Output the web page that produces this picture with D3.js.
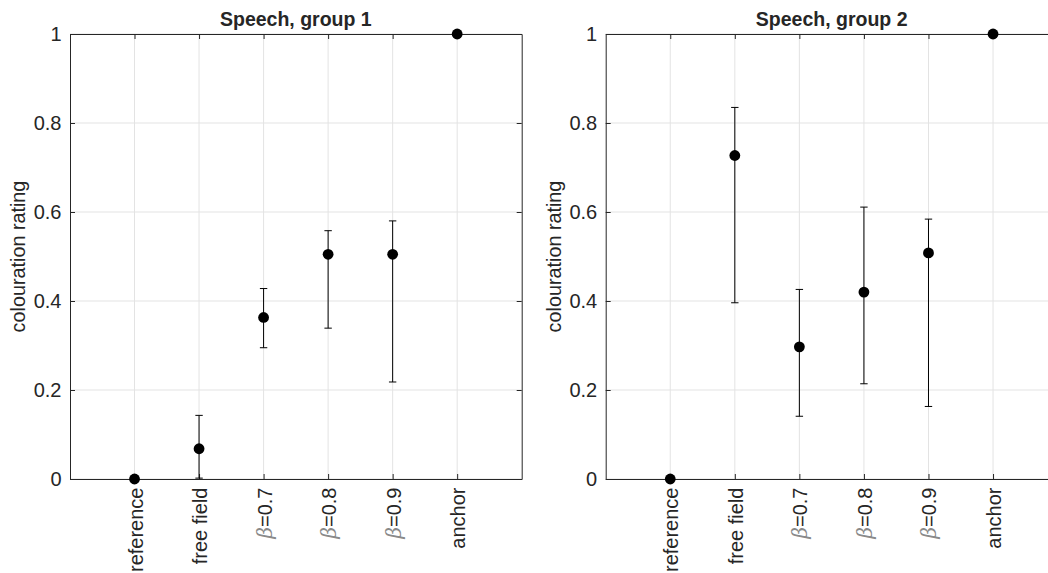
<!DOCTYPE html>
<html>
<head>
<meta charset="utf-8">
<script src="https://cdn.jsdelivr.net/npm/d3@7"></script>
<style>
  html, body { margin: 0; padding: 0; background: #fff; }
  svg { display: block; }
  text { font-family: "Liberation Sans", Arial, Helvetica, sans-serif; fill: #262626; }
</style>
</head>
<body>
<svg id="fig" width="1048" height="573"></svg>
<script>
// Conditions along the x axis (positions 1..6)
const conditions = ["reference", "free field", "β=0.7", "β=0.8", "β=0.9", "anchor"];
const yTicks = [0, 0.2, 0.4, 0.6, 0.8, 1];

// Group 1: median rating and interval limits
const group1Median = [0, 0.068, 0.363, 0.505, 0.505, 1];
const group1Lower  = [0, 0.002, 0.295, 0.339, 0.218, 1];
const group1Upper  = [0, 0.143, 0.428, 0.558, 0.580, 1];

// Group 2: median rating and interval limits
const group2Median = [0, 0.727, 0.297, 0.420, 0.508, 1];
const group2Lower  = [0, 0.396, 0.141, 0.214, 0.163, 1];
const group2Upper  = [0, 0.835, 0.426, 0.611, 0.584, 1];

const panels = [
  { title: "Speech, group 1", median: group1Median, lower: group1Lower, upper: group1Upper, x0: 70, x1: 521.7 },
  { title: "Speech, group 2", median: group2Median, lower: group2Lower, upper: group2Upper, x0: 605.7, x1: 1057.6 }
];

const svg = d3.select("#fig");
const plotTop = 34, plotBottom = 479;
const axisColor = "#262626";
const gridColor = "#e3e3e3";
const tickFont = 20;

panels.forEach(p => {
  const x = d3.scaleLinear().domain([0, 7]).range([p.x0, p.x1]);
  const y = d3.scaleLinear().domain([0, 1]).range([plotBottom, plotTop]);
  const g = svg.append("g");
  const xs = d3.range(1, 7);

  // grid
  g.selectAll(".gx").data(xs).enter().append("line")
    .attr("x1", d => x(d)).attr("x2", d => x(d))
    .attr("y1", plotTop).attr("y2", plotBottom)
    .attr("stroke", gridColor).attr("stroke-width", 1);
  g.selectAll(".gy").data(yTicks).enter().append("line")
    .attr("x1", p.x0).attr("x2", p.x1)
    .attr("y1", d => y(d)).attr("y2", d => y(d))
    .attr("stroke", gridColor).attr("stroke-width", 1);

  // axes with inward ticks on all four sides
  const ax = g.append("g").attr("class", "axes");
  ax.append("g").attr("transform", `translate(0,${plotBottom})`)
    .call(d3.axisBottom(x).tickValues(xs).tickSizeInner(-5).tickSizeOuter(0).tickFormat(""));
  ax.append("g").attr("transform", `translate(0,${plotTop})`)
    .call(d3.axisTop(x).tickValues(xs).tickSizeInner(-5).tickSizeOuter(0).tickFormat(""));
  ax.append("g").attr("transform", `translate(${p.x0},0)`)
    .call(d3.axisLeft(y).tickValues(yTicks).tickSizeInner(-5).tickSizeOuter(0)
      .tickPadding(8.5).tickFormat(d => d3.format("~g")(d)));
  ax.append("g").attr("transform", `translate(${p.x1},0)`)
    .call(d3.axisRight(y).tickValues(yTicks).tickSizeInner(-5).tickSizeOuter(0).tickFormat(""));
  ax.selectAll("path.domain").attr("stroke", axisColor).attr("stroke-width", 1);
  ax.selectAll(".tick line").attr("stroke", axisColor).attr("stroke-width", 1);
  ax.selectAll(".tick text").attr("fill", axisColor).attr("font-size", tickFont)
    .attr("font-family", "'Liberation Sans', Arial, sans-serif");

  // rotated category labels
  const lab = g.selectAll(".xl").data(conditions).enter().append("text")
    .attr("transform", (d, i) => `translate(${x(i + 1) + 8},${plotBottom + 8.5}) rotate(-90)`)
    .attr("text-anchor", "end")
    .attr("font-size", tickFont);
  lab.each(function(d) {
    const t = d3.select(this);
    if (d.startsWith("β")) {
      t.append("tspan").text("β").attr("font-style", "italic")
        .attr("font-family", "'DejaVu Serif', serif").attr("fill", "#8a8a8a");
      t.append("tspan").text(d.slice(1));
    } else {
      t.text(d);
    }
  });

  // title and y label
  g.append("text").attr("x", (p.x0 + p.x1) / 2).attr("y", 26)
    .attr("text-anchor", "middle").attr("font-weight", "bold").attr("font-size", 19.5)
    .attr("fill", "#000").text(p.title);
  g.append("text").attr("transform", `translate(${p.x0 - 45},${(plotTop + plotBottom) / 2}) rotate(-90)`)
    .attr("text-anchor", "middle").attr("font-size", 19.8).text("colouration rating");

  // error bars
  const idx = d3.range(conditions.length).filter(i => p.upper[i] !== p.lower[i]);
  const eb = g.append("g").attr("stroke", "#000").attr("stroke-width", 1).attr("fill", "none");
  eb.selectAll(".v").data(idx).enter().append("line")
    .attr("x1", i => x(i + 1)).attr("x2", i => x(i + 1))
    .attr("y1", i => y(p.lower[i])).attr("y2", i => y(p.upper[i]));
  eb.selectAll(".cu").data(idx).enter().append("line")
    .attr("x1", i => x(i + 1) - 3.7).attr("x2", i => x(i + 1) + 3.7)
    .attr("y1", i => y(p.upper[i])).attr("y2", i => y(p.upper[i]));
  eb.selectAll(".cl").data(idx).enter().append("line")
    .attr("x1", i => x(i + 1) - 3.7).attr("x2", i => x(i + 1) + 3.7)
    .attr("y1", i => y(p.lower[i])).attr("y2", i => y(p.lower[i]));

  // medians
  g.selectAll(".pt").data(p.median).enter().append("circle")
    .attr("cx", (d, i) => x(i + 1)).attr("cy", d => y(d))
    .attr("r", 5.4).attr("fill", "#000");
});
</script>
</body>
</html>
